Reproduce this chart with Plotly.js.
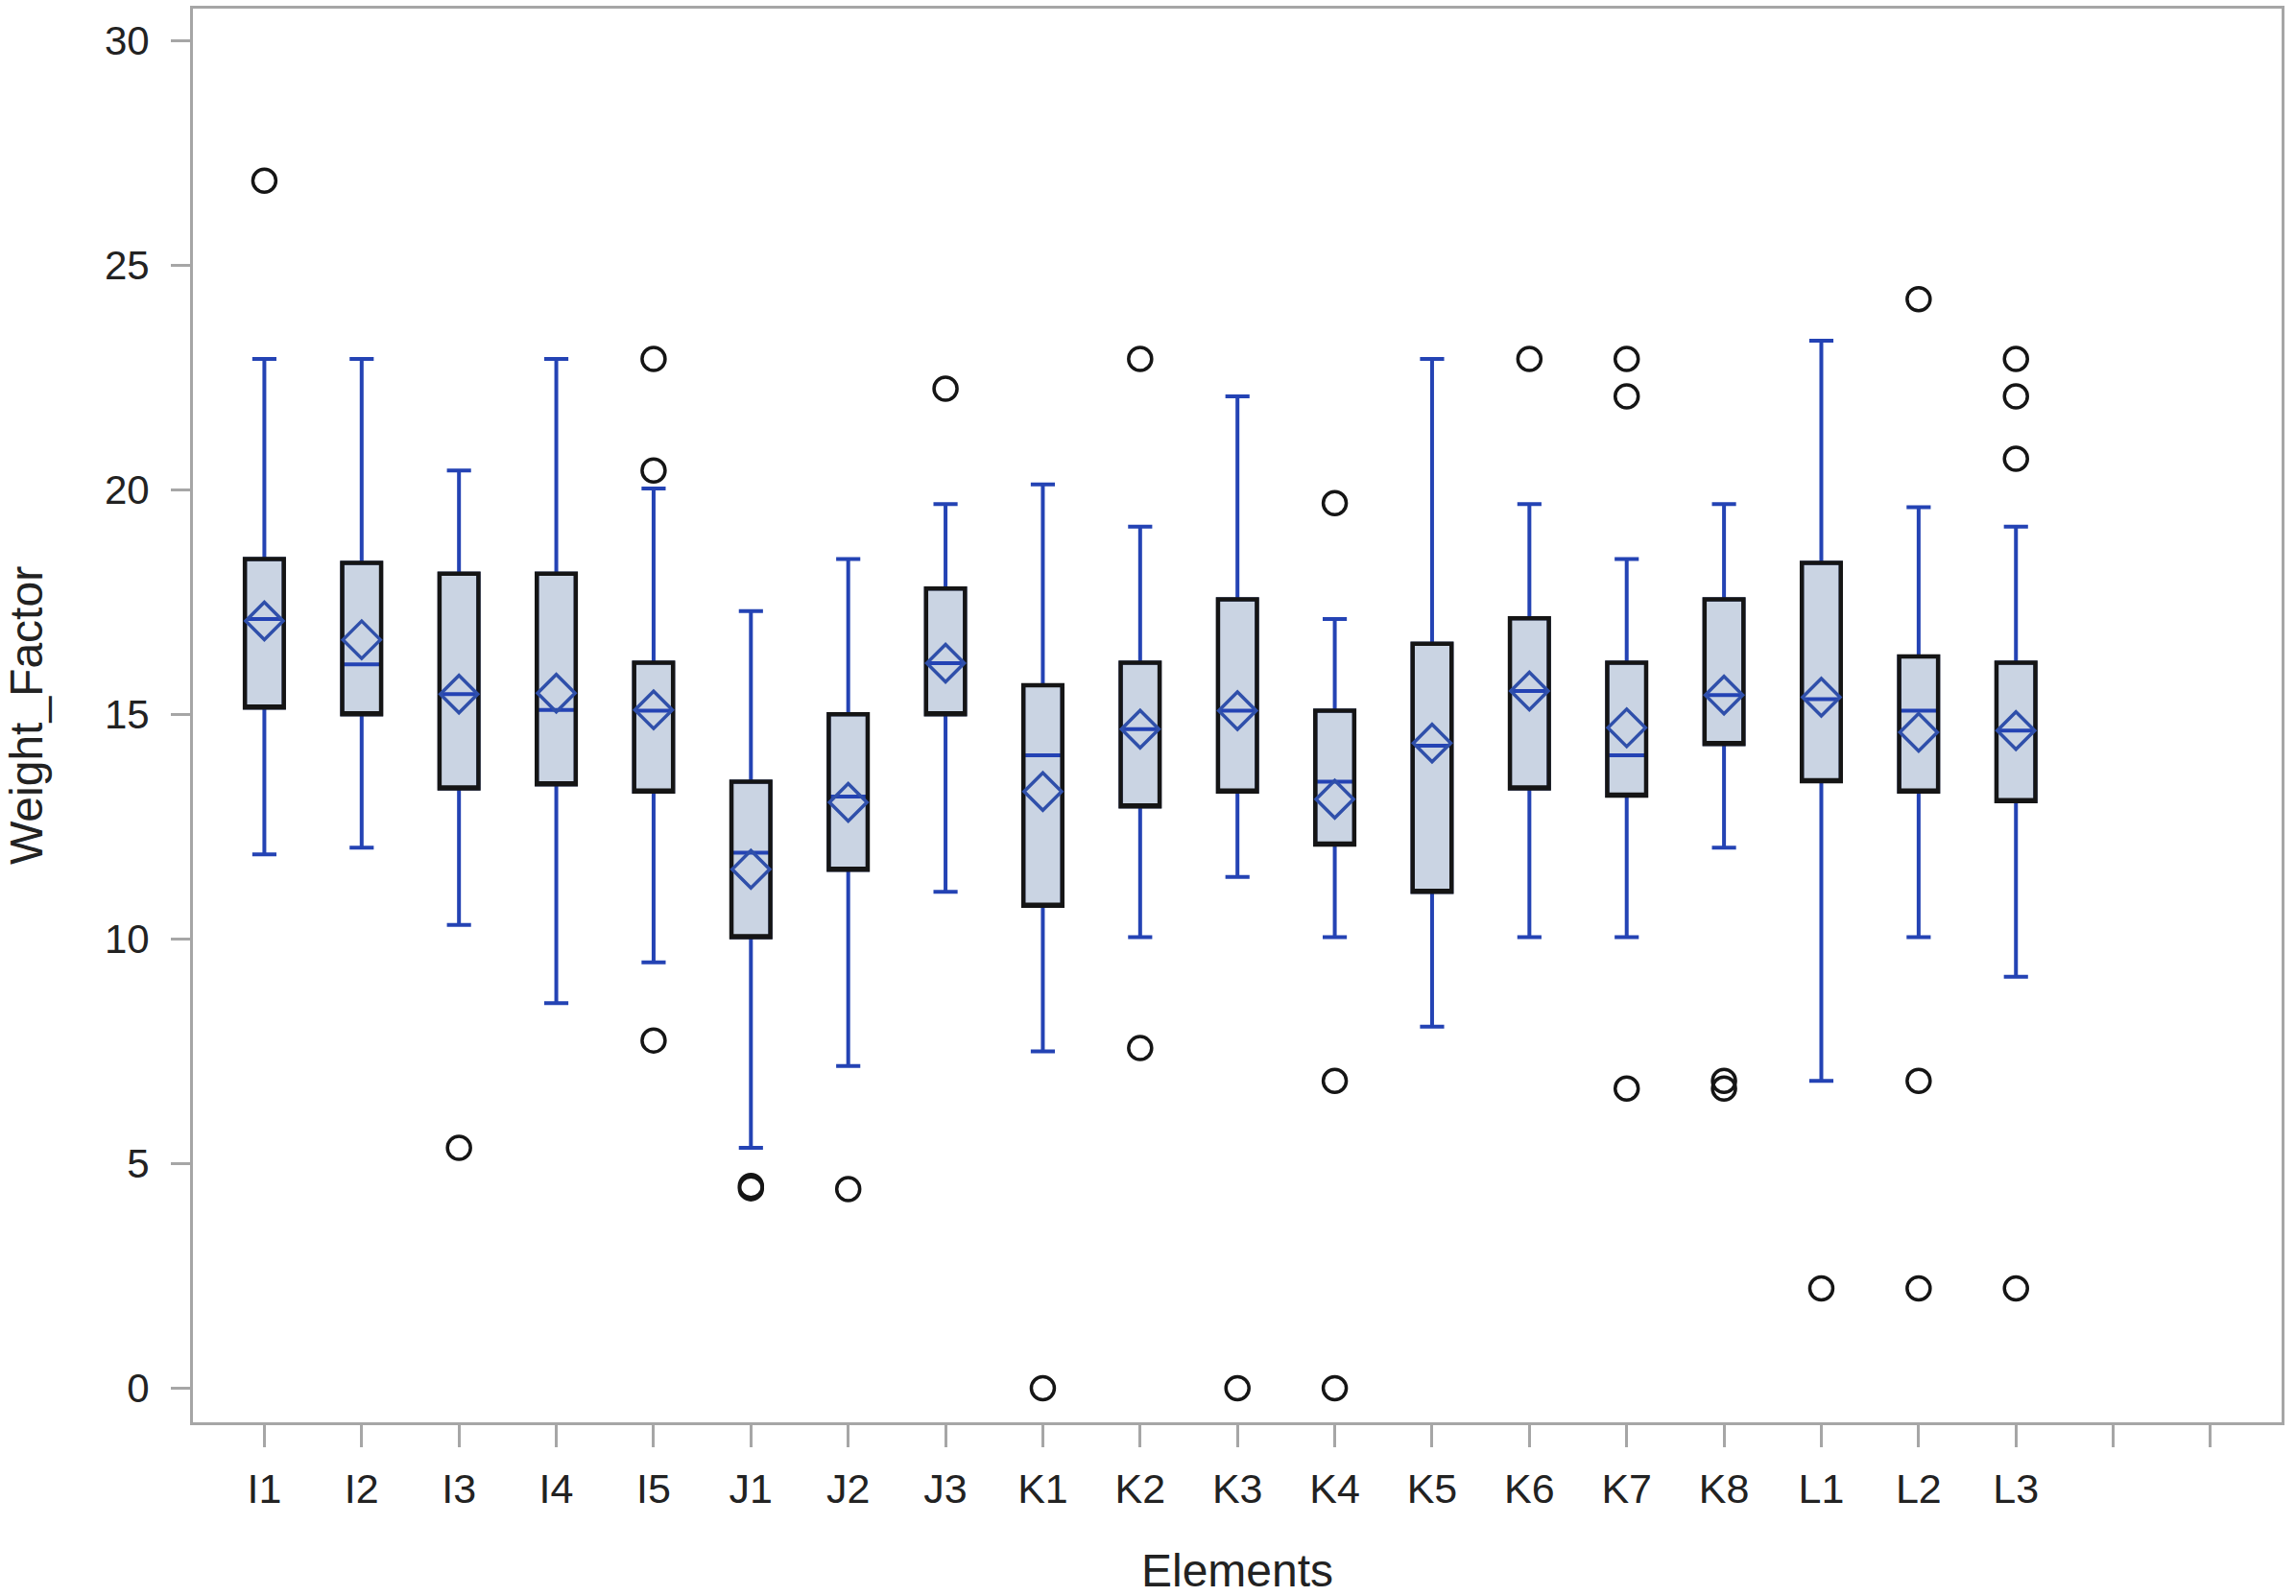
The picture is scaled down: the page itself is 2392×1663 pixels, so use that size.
<!DOCTYPE html>
<html>
<head>
<meta charset="utf-8">
<script src="https://cdn.plot.ly/plotly-3.0.1.min.js"></script>
<style>
  html, body { margin: 0; padding: 0; background: #ffffff; }
  #chart { width: 2392px; height: 1663px; }
</style>
</head>
<body>
<div id="chart"></div>
<script>
// ---- Data ----
const categories = ['I1','I2','I3','I4','I5','J1','J2','J3','K1','K2','K3','K4','K5','K6','K7','K8','L1','L2','L3'];
const extraSlots = ['', ''];   // two empty category slots at the right end of the axis

const lowerWhisker = [11.88, 12.03, 10.31, 8.57, 9.48, 5.35, 7.17, 11.05, 7.50, 10.04, 11.38, 10.04, 8.05, 10.04, 10.04, 12.03, 6.84, 10.04, 9.16];
const q1Values     = [15.15, 15.00, 13.35, 13.44, 13.28, 10.04, 11.54, 15.00, 10.74, 12.95, 13.28, 12.10, 11.05, 13.35, 13.19, 14.34, 13.51, 13.28, 13.07];
const medianValues = [17.12, 16.11, 15.45, 15.10, 15.08, 11.92, 13.17, 16.14, 14.09, 14.67, 15.08, 13.50, 14.30, 15.52, 14.09, 15.43, 15.34, 15.08, 14.64];
const q3Values     = [18.46, 18.37, 18.13, 18.13, 16.15, 13.50, 15.00, 17.80, 15.65, 16.15, 17.56, 15.08, 16.57, 17.14, 16.15, 17.56, 18.37, 16.29, 16.15];
const upperWhisker = [22.91, 22.91, 20.43, 22.91, 20.03, 17.30, 18.46, 19.68, 20.12, 19.18, 22.08, 17.12, 22.91, 19.68, 18.46, 19.68, 23.32, 19.61, 19.18];
const meanValues   = [17.08, 16.66, 15.45, 15.47, 15.10, 11.55, 13.04, 16.14, 13.28, 14.67, 15.08, 13.11, 14.36, 15.52, 14.70, 15.43, 15.38, 14.60, 14.64];

const outlierCategory = ['I1','I3','I5','I5','I5','J1','J1','J2','J3','K1','K2','K2','K3','K4','K4','K4','K6','K7','K7','K7','K8','K8','L1','L2','L2','L2','L3','L3','L3','L3'];
const outlierValue    = [26.88, 5.35, 22.91, 20.43, 7.74, 4.50, 4.45, 4.43, 22.25, 0.00, 22.91, 7.57, 0.00, 19.70, 6.84, 0.00, 22.91, 22.91, 22.08, 6.67, 6.84, 6.67, 2.22, 24.24, 6.84, 2.22, 22.91, 22.08, 20.69, 2.22];

const yTickValues = [0, 5, 10, 15, 20, 25, 30];

// ---- Build traces ----
const tickLabels = categories.concat(extraSlots);
const tickPositions = tickLabels.map((_, i) => i);
const xPos = categories.map((_, i) => i);
const outlierX = outlierCategory.map(c => categories.indexOf(c));

const blue = '#2443B4';
const diamondBlue = '#2F4FAA';

const boxBlue = {
  type: 'box',
  x: xPos,
  q1: q1Values,
  median: medianValues,
  q3: q3Values,
  lowerfence: lowerWhisker,
  upperfence: upperWhisker,
  width: 0.4,
  whiskerwidth: 0.62,
  fillcolor: '#CAD4E3',
  line: { color: blue, width: 4 },
  boxpoints: false,
  hoverinfo: 'skip',
  showlegend: false
};

// black outline of the box (whiskers collapsed onto box edges)
const boxOutline = {
  type: 'box',
  x: xPos,
  q1: q1Values,
  median: q1Values,
  q3: q3Values,
  lowerfence: q1Values,
  upperfence: q3Values,
  width: 0.4,
  whiskerwidth: 0,
  fillcolor: 'rgba(0,0,0,0)',
  line: { color: '#151515', width: 4.5 },
  boxpoints: false,
  hoverinfo: 'skip',
  showlegend: false
};

const meanTrace = {
  type: 'scatter',
  mode: 'markers',
  x: xPos,
  y: meanValues,
  marker: { symbol: 'diamond-open', size: 30, color: diamondBlue, line: { width: 3.5, color: diamondBlue } },
  hoverinfo: 'skip',
  showlegend: false
};

const outlierTrace = {
  type: 'scatter',
  mode: 'markers',
  x: outlierX,
  y: outlierValue,
  marker: { symbol: 'circle-open', size: 24, color: '#151515', line: { width: 3.5, color: '#151515' } },
  hoverinfo: 'skip',
  showlegend: false
};

const axisColor = '#A6A6A6';
const fontFamily = '"Liberation Sans", Arial, sans-serif';

const layout = {
  width: 2392,
  height: 1663,
  margin: { l: 201, r: 15, t: 9, b: 181 },
  paper_bgcolor: '#ffffff',
  plot_bgcolor: '#ffffff',
  font: { family: fontFamily, color: '#222222' },
  showlegend: false,
  boxmode: 'overlay',
  xaxis: {
    range: [-0.734, 20.73],
    tickmode: 'array',
    tickvals: tickPositions,
    ticktext: tickLabels,
    ticks: 'outside',
    ticklen: 23,
    tickwidth: 3,
    tickcolor: axisColor,
    showline: true,
    linecolor: axisColor,
    linewidth: 3,
    mirror: true,
    showgrid: false,
    zeroline: false,
    ticklabelstandoff: 6,
    tickfont: { size: 43, color: '#222222', family: fontFamily },
    title: { text: 'Elements', font: { size: 48, color: '#222222', family: fontFamily }, standoff: 46 }
  },
  yaxis: {
    range: [-0.76, 30.71],
    tickmode: 'array',
    tickvals: yTickValues,
    ticks: 'outside',
    ticklen: 20,
    tickwidth: 3,
    tickcolor: axisColor,
    showline: true,
    linecolor: axisColor,
    linewidth: 3,
    mirror: true,
    showgrid: false,
    zeroline: false,
    ticklabelstandoff: 14,
    tickfont: { size: 42, color: '#222222', family: fontFamily },
    title: { text: 'Weight_Factor', font: { size: 48, color: '#222222', family: fontFamily }, standoff: 50 }
  }
};

Plotly.newPlot('chart', [boxBlue, boxOutline, meanTrace, outlierTrace], layout, { displayModeBar: false, staticPlot: true });
</script>
</body>
</html>
